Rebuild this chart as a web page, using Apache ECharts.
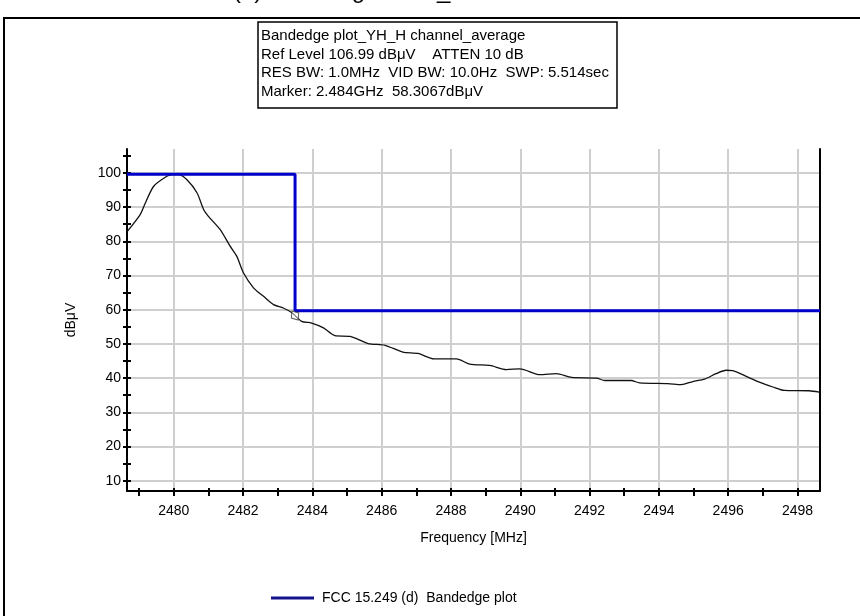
<!DOCTYPE html>
<html><head><meta charset="utf-8">
<script src="https://cdn.jsdelivr.net/npm/echarts@6/dist/echarts.min.js"></script>
<style>html,body{margin:0;padding:0;background:#fff}#c{width:860px;height:616px}</style>
</head><body><div id="c"></div>
<script>
const freqMHz = [2478.66, 2479.03, 2479.18, 2479.42, 2479.80, 2479.95, 2480.14, 2480.38, 2480.67, 2480.86,
  2481.00, 2481.34, 2481.63, 2481.82, 2482.01, 2482.30, 2482.59, 2482.88, 2483.16, 2483.41,
  2483.69, 2483.98, 2484.32, 2484.65, 2485.09, 2485.61, 2486.10, 2486.61, 2487.05, 2487.51,
  2488.16, 2488.54, 2489.12, 2489.60, 2489.99, 2490.57, 2491.04, 2491.48, 2492.20, 2492.44,
  2493.20, 2493.44, 2494.26, 2494.65, 2494.98, 2495.32, 2495.65, 2495.94, 2496.13, 2496.52,
  2496.90, 2497.29, 2497.62, 2498.34, 2498.63];
const levelDbuV = [82.9, 87.8, 91.2, 96.1, 99.0, 99.5, 99.5, 98.0, 94.2, 89.3,
  87.3, 83.4, 78.5, 75.6, 70.8, 66.4, 63.9, 61.5, 60.5, 59.1,
  56.6, 56.1, 54.7, 52.4, 52.2, 50.1, 49.6, 47.6, 47.2, 45.6,
  45.6, 44.1, 43.7, 42.5, 42.7, 41.0, 41.3, 40.2, 40.0, 39.3,
  39.3, 38.6, 38.4, 38.1, 39.0, 39.7, 41.3, 42.3, 42.2, 40.5,
  38.8, 37.4, 36.4, 36.3, 35.9];
const limitFreq = [2478.65, 2483.5, 2483.5, 2498.65];
const limitLevel = [99.6, 99.6, 59.7, 59.7];
const markerFreq = [2483.5];
const markerLevel = [58.31];
const xMin = 2478.65, xMax = 2498.65;
const yMin = 6.99, yMax = 106.99;
const xTickValues = [2479,2480,2481,2482,2483,2484,2485,2486,2487,2488,2489,2490,2491,2492,2493,2494,2495,2496,2497,2498];
const xLabelValues = [2480,2482,2484,2486,2488,2490,2492,2494,2496,2498];
const yTickValues = [10,15,20,25,30,35,40,45,50,55,60,65,70,75,80,85,90,95,100,105];
const yLabelValues = [10,20,30,40,50,60,70,80,90,100];
const infoLines = [
  'Bandedge plot_YH_H channel_average',
  'Ref Level 106.99 dB\u03bcV    ATTEN 10 dB',
  'RES BW: 1.0MHz  VID BW: 10.0Hz  SWP: 5.514sec',
  'Marker: 2.484GHz  58.3067dB\u03bcV'
];
const titleText = '(a) Bandedge HCH_';
const xName = 'Frequency [MHz]';
const yName = 'dB\u03bcV';
const legendName = 'FCC 15.249 (d)  Bandedge plot';

const FONT = "'Liberation Sans', Arial, sans-serif";
const chart = echarts.init(document.getElementById('c'), null, {renderer: 'canvas'});
const zip = (a, b) => a.map((v, i) => [v, b[i]]);

const baseX = {type: 'value', min: xMin, max: xMax, position: 'bottom', gridIndex: 0};
const baseY = {type: 'value', min: yMin, max: yMax, position: 'left', gridIndex: 0};

const option = {
  animation: false,
  backgroundColor: '#ffffff',
  grid: {left: 127, top: 149, width: 693, height: 342, containLabel: false},
  legend: {
    left: 266, top: 586,
    icon: 'rect', itemWidth: 43, itemHeight: 3,
    textStyle: {fontFamily: FONT, fontSize: 14, color: '#000', padding: [0, 0, 0, 3]},
    data: [{name: legendName, itemStyle: {color: '#14148c'}}]
  },
  xAxis: [
    Object.assign({}, baseX, {
      name: xName, nameLocation: 'middle', nameGap: 40,
      nameTextStyle: {fontFamily: FONT, fontSize: 14, color: '#000'},
      axisLine: {show: true, lineStyle: {color: '#000', width: 2}},
      axisTick: {show: true, inside: false, length: 5, customValues: xTickValues, lineStyle: {color: '#000', width: 2}},
      axisLabel: {show: true, customValues: xLabelValues, margin: 13, fontFamily: FONT, fontSize: 14, color: '#000', formatter: v => String(v)},
      splitLine: {show: false}
    }),
    Object.assign({}, baseX, {
      axisLine: {show: false},
      axisTick: {show: true, inside: true, length: 3, customValues: xTickValues, lineStyle: {color: '#000', width: 2}},
      axisLabel: {show: false},
      splitLine: {show: false}
    }),
    Object.assign({}, baseX, {
      axisLine: {show: false},
      axisTick: {show: false, customValues: xLabelValues},
      axisLabel: {show: false},
      splitLine: {show: true, lineStyle: {color: '#cfcfcf', width: 2}}
    })
  ],
  yAxis: [
    Object.assign({}, baseY, {
      name: yName, nameLocation: 'middle', nameGap: 49, nameRotate: 90,
      nameTextStyle: {fontFamily: FONT, fontSize: 14, color: '#000'},
      axisLine: {show: true, lineStyle: {color: '#000', width: 2}},
      axisTick: {show: true, inside: false, length: 4, customValues: yTickValues, lineStyle: {color: '#000', width: 2}},
      axisLabel: {show: true, customValues: yLabelValues, margin: 6, fontFamily: FONT, fontSize: 14, color: '#000'},
      splitLine: {show: false}
    }),
    Object.assign({}, baseY, {
      axisLine: {show: false},
      axisTick: {show: true, inside: true, length: 4, customValues: yTickValues, lineStyle: {color: '#000', width: 2}},
      axisLabel: {show: false},
      splitLine: {show: false}
    }),
    Object.assign({}, baseY, {
      axisLine: {show: false},
      axisTick: {show: false, customValues: yLabelValues},
      axisLabel: {show: false},
      splitLine: {show: true, lineStyle: {color: '#cfcfcf', width: 2}}
    }),
    Object.assign({}, baseY, {
      position: 'right',
      axisLine: {show: true, lineStyle: {color: '#000', width: 2}},
      axisTick: {show: false},
      axisLabel: {show: false},
      splitLine: {show: false}
    })
  ],
  series: [
    {
      name: 'trace', type: 'line', xAxisIndex: 0, yAxisIndex: 0,
      data: zip(freqMHz, levelDbuV), showSymbol: false, symbol: 'none',
      smooth: 0.25, lineStyle: {color: '#111', width: 1.3}, z: 3
    },
    {
      name: legendName, type: 'line', xAxisIndex: 0, yAxisIndex: 0,
      data: zip(limitFreq, limitLevel), showSymbol: false, symbol: 'none',
      lineStyle: {color: '#0000cc', width: 3}, itemStyle: {color: '#0000cc'}, z: 4
    },
    {
      name: 'marker', type: 'scatter', xAxisIndex: 0, yAxisIndex: 0,
      data: zip(markerFreq, markerLevel), symbol: 'diamond', symbolSize: [9, 11],
      symbolRotate: 35,
      itemStyle: {color: 'rgba(255,255,255,0.6)', borderColor: '#333', borderWidth: 1}, z: 5
    }
  ],
  graphic: [
    {type: 'rect', shape: {x: 4, y: 18, width: 900, height: 700}, style: {fill: 'none', stroke: '#000', lineWidth: 2}, silent: true},
    {type: 'text', left: 233, top: -21, style: {text: titleText, fontFamily: FONT, fontSize: 24, fill: '#000'}},
    {type: 'rect', shape: {x: 258, y: 22, width: 359, height: 86}, style: {fill: '#fff', stroke: '#000', lineWidth: 1.5}},
    {type: 'text', x: 261, y: 27, style: {text: infoLines.join('\n'), fontFamily: FONT, fontSize: 15, lineHeight: 18.5, fill: '#000'}}
  ]
};
chart.setOption(option);
</script>
</body></html>
